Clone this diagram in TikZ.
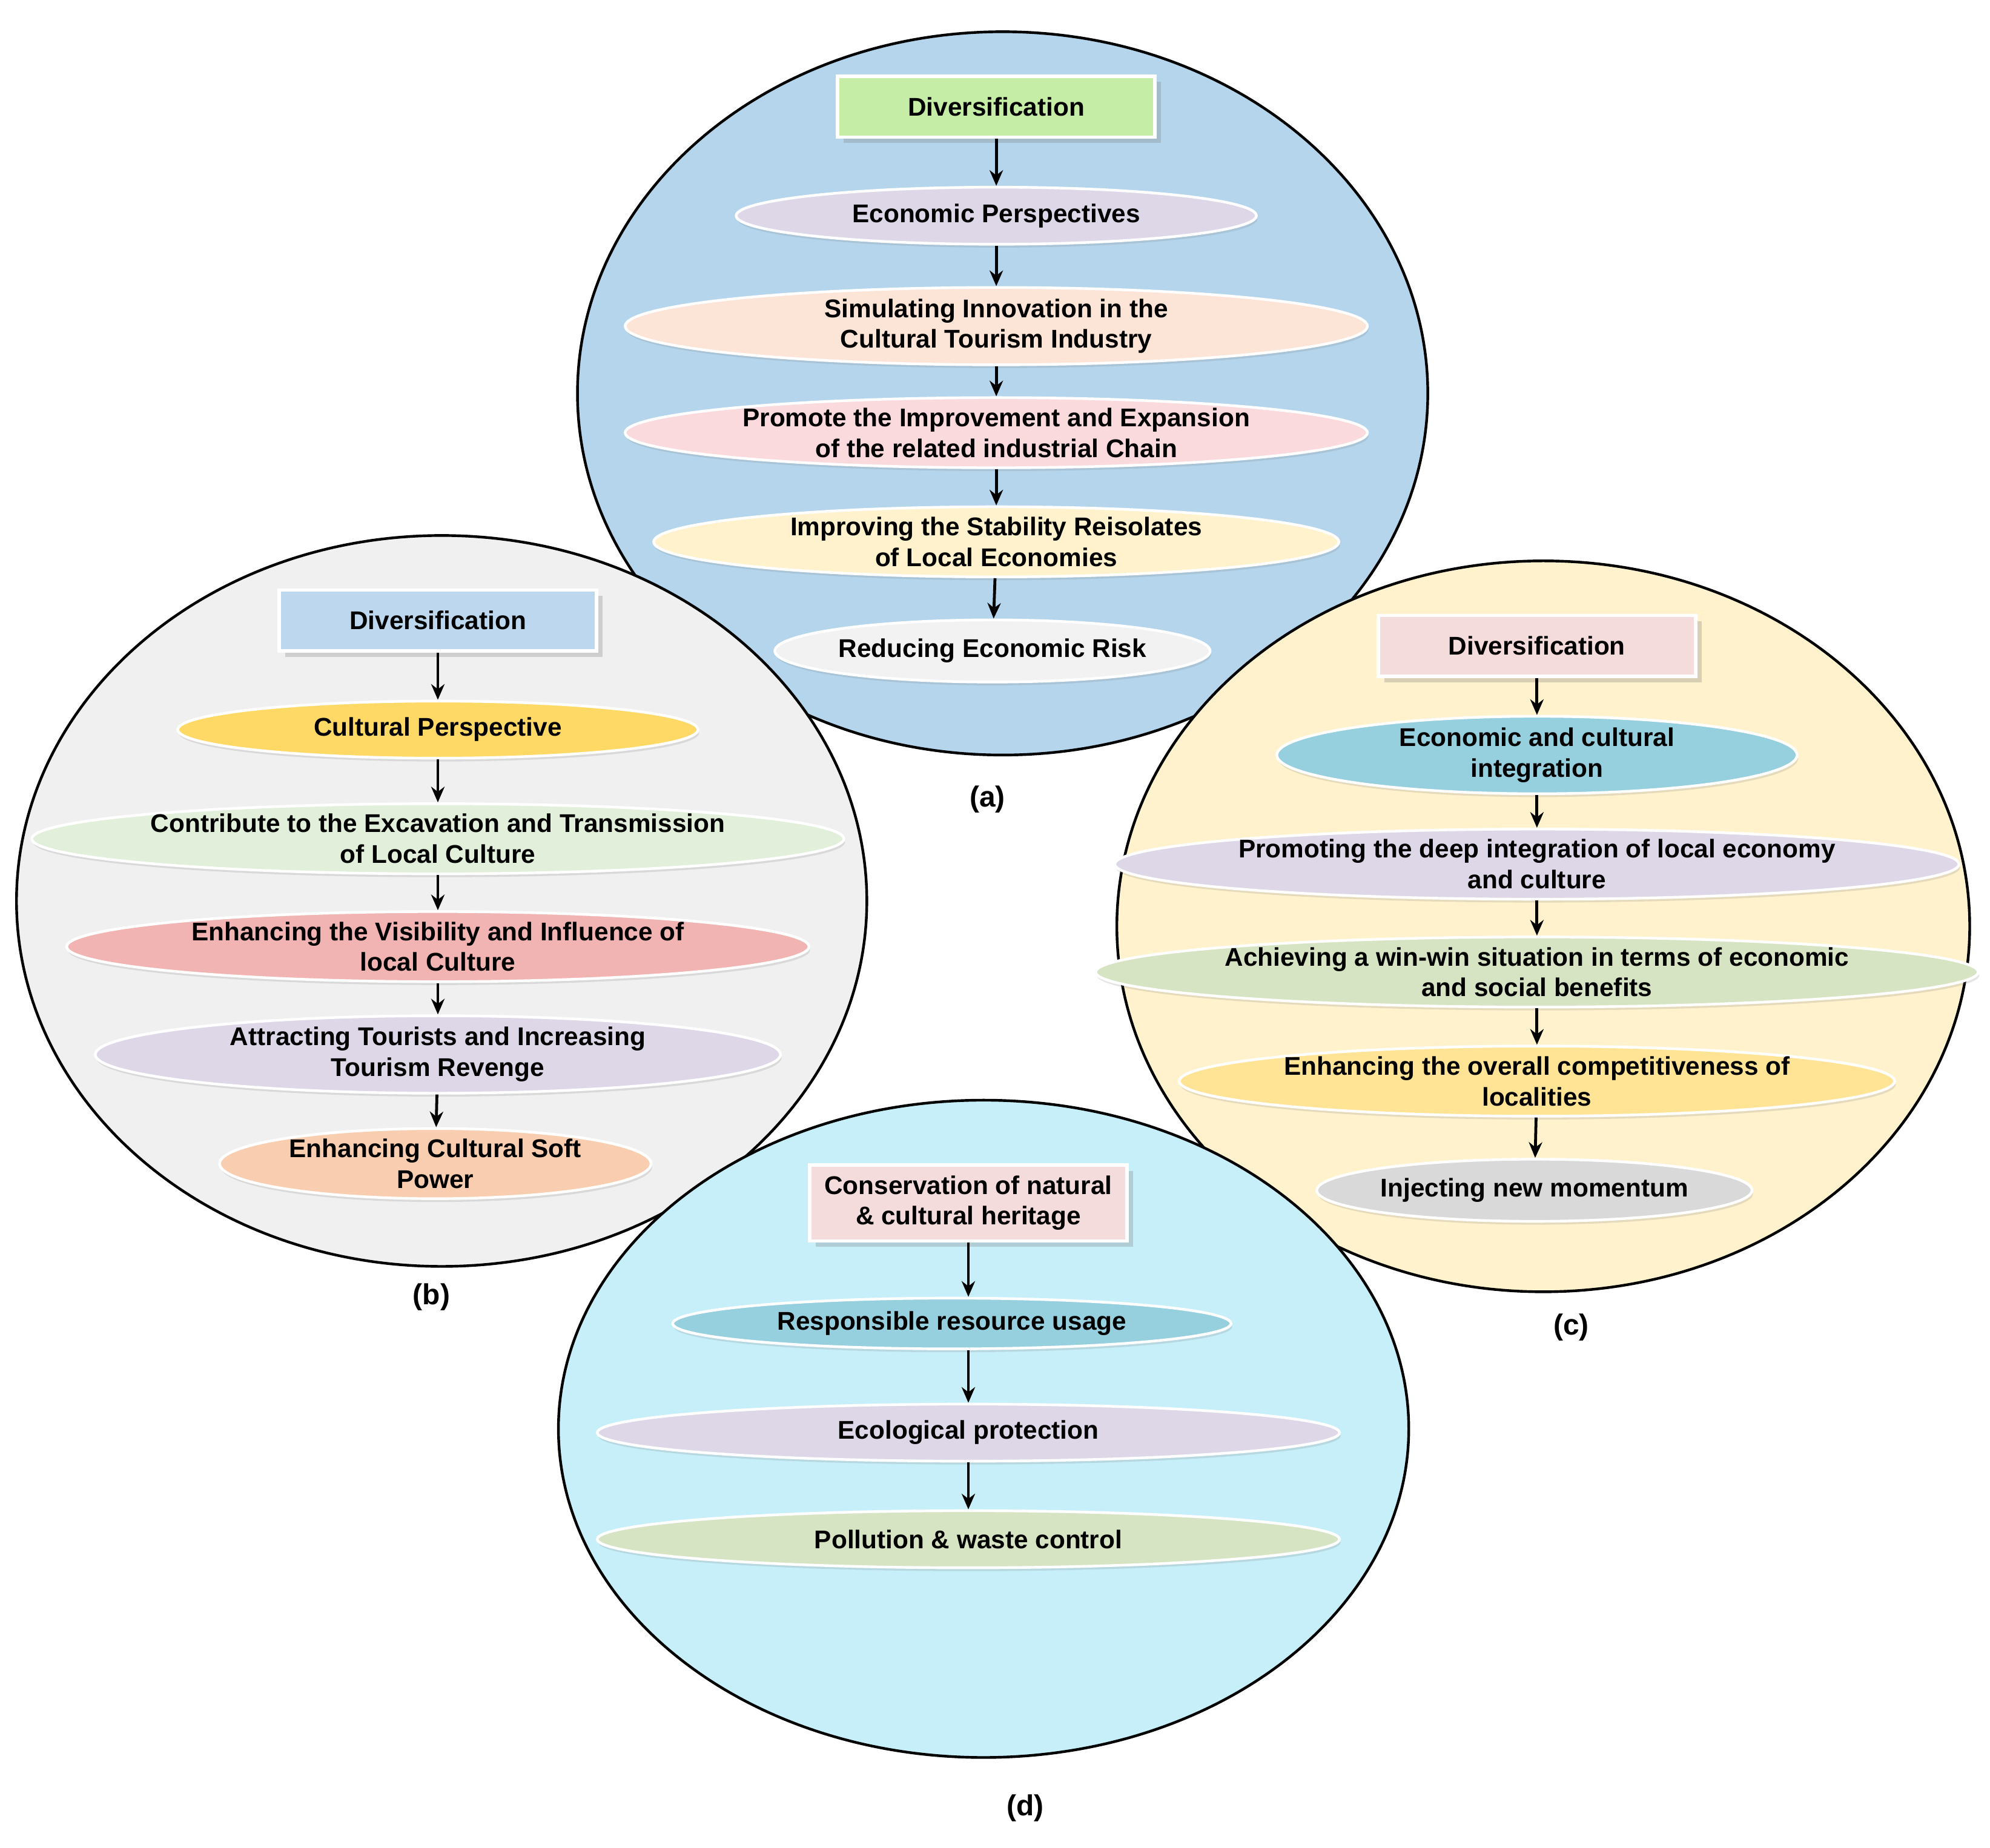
\documentclass[tikz,border=0pt]{standalone}
\usepackage{fontspec}
\setmainfont{Liberation Sans}
\usetikzlibrary{shapes.geometric,arrows.meta,shadows}
\definecolor{cA}{RGB}{180,213,236}
\definecolor{cB}{RGB}{240,240,240}
\definecolor{cC}{RGB}{255,242,204}
\definecolor{cD}{RGB}{198,239,250}
\definecolor{green1}{RGB}{197,237,165}
\definecolor{lilac}{RGB}{222,215,232}
\definecolor{peach}{RGB}{252,228,214}
\definecolor{pink}{RGB}{250,218,221}
\definecolor{lyel}{RGB}{255,242,204}
\definecolor{gry}{RGB}{242,242,242}
\definecolor{blue1}{RGB}{189,215,238}
\definecolor{yel}{RGB}{255,217,102}
\definecolor{lgreen}{RGB}{226,239,218}
\definecolor{salmon}{RGB}{241,180,178}
\definecolor{peach2}{RGB}{249,206,176}
\definecolor{pink2}{RGB}{243,220,219}
\definecolor{teal1}{RGB}{150,207,222}
\definecolor{yel2}{RGB}{255,228,150}
\definecolor{gry2}{RGB}{217,217,217}
\definecolor{lgreen2}{RGB}{214,228,196}
\tikzset{
 circ/.style={draw=black,line width=1.2pt},
 box/.style={rectangle,draw=white,line width=1.5pt,minimum width=5cm,minimum height=0.96cm,font=\bfseries\fontsize{11.5}{13.8}\selectfont,align=center,drop shadow={opacity=0.3}},
 ell/.style={ellipse,draw=white,line width=1.2pt,inner sep=0pt,minimum height=0.98cm,font=\bfseries\fontsize{11.5}{13.8}\selectfont,align=center,drop shadow={opacity=0.2,shadow xshift=0.5pt,shadow yshift=-1.5pt}},
 w410/.style={minimum width=8.2cm},
 w585/.style={minimum width=11.7cm},
 w540/.style={minimum width=10.8cm},
 w340/.style={minimum width=6.8cm},
 w440/.style={minimum width=8.8cm},
 arr/.style={-{Stealth[length=7pt,width=6pt]},line width=1.3pt},
 lab/.style={font=\bfseries\fontsize{13}{15}\selectfont}
}
\begin{document}
\begin{tikzpicture}[x=0.02cm,y=-0.02cm]
\useasboundingbox (0,0) rectangle (1568,1456);
\fill[white] (0,0) rectangle (1568,1456);
% circles
\draw[circ,fill=cA] (790,310) ellipse [x radius=335,y radius=285];
\draw[circ,fill=cB] (348,710) ellipse [x radius=335,y radius=288];
\draw[circ,fill=cC] (1216,730) ellipse [x radius=336,y radius=288];
\draw[circ,fill=cD] (775,1126) ellipse [x radius=335,y radius=259];
% (a)
\node[box,fill=green1] (a0) at (785,84) {Diversification};
\node[ell,w410,fill=lilac,minimum height=0.9cm] (a1) at (785,170) {Economic Perspectives};
\node[ell,w585,fill=peach] (a2) at (785,257) {Simulating Innovation in the\\Cultural Tourism Industry};
\node[ell,w585,fill=pink] (a3) at (785,341) {Promote the Improvement and Expansion\\of the related industrial Chain};
\node[ell,w540,fill=lyel] (a4) at (785,427) {Improving the Stability Reisolates\\of Local Economies};
\node[ell,w340,fill=gry] (a5) at (782,513) {Reducing Economic Risk};
\foreach \i/\j in {a0/a1,a1/a2,a2/a3,a3/a4,a4/a5} \draw[arr] (\i) -- (\j);
\node[lab] (la) at (778,630) {(a)};
% (b)
\node[box,fill=blue1] (b0) at (345,489) {Diversification};
\node[ell,w410,fill=yel,minimum height=0.9cm] (b1) at (345,575) {Cultural Perspective};
\node[ell,w585,fill=lgreen] (b2) at (345,661) {Contribute to the Excavation and Transmission\\of Local Culture};
\node[ell,w585,fill=salmon] (b3) at (345,746) {Enhancing the Visibility and Influence of\\local Culture};
\node[ell,w540,fill=lilac] (b4) at (345,831) {Attracting Tourists and Increasing\\Tourism Revenge};
\node[ell,w340,fill=peach2] (b5) at (343,917) {Enhancing Cultural Soft\\Power};
\foreach \i/\j in {b0/b1,b1/b2,b2/b3,b3/b4,b4/b5} \draw[arr] (\i) -- (\j);
\node[lab] (lb) at (340,1022) {(b)};
% (c)
\node[box,fill=pink2] (c0) at (1211,509) {Diversification};
\node[ell,w410,fill=teal1] (c1) at (1211,595) {Economic and cultural\\integration};
\node[ell,w585,fill=lilac] (c2) at (1211,681) {Promoting the deep integration of local economy\\and culture};
\node[ell,w585,fill=lgreen2] (c3) at (1211,766) {Achieving a win-win situation in terms of economic\\and social benefits};
\node[ell,w540,fill=yel2] (c4) at (1211,852) {Enhancing the overall competitiveness of\\localities};
\node[ell,w340,fill=gry2] (c5) at (1209,938) {Injecting new momentum};
\foreach \i/\j in {c0/c1,c1/c2,c2/c3,c3/c4,c4/c5} \draw[arr] (\i) -- (\j);
\node[lab] (lc) at (1238,1046) {(c)};
% (d)
\node[box,fill=pink2,minimum height=1.2cm] (d0) at (763,948) {Conservation of natural\\\& cultural heritage};
\node[ell,w440,fill=teal1,minimum height=0.8cm] (d1) at (750,1043) {Responsible resource usage};
\node[ell,w585,fill=lilac,minimum height=0.9cm] (d2) at (763,1129) {Ecological protection};
\node[ell,w585,fill=lgreen2,minimum height=0.9cm] (d3) at (763,1213) {Pollution \& waste control};
\draw[arr] (d0.south) -- (d0.south|-d1.north);
\draw[arr] (d1.south-|d2.north) -- (d2.north);
\draw[arr] (d2) -- (d3);
\node[lab] (ld) at (808,1425) {(d)};
\end{tikzpicture}
\end{document}
